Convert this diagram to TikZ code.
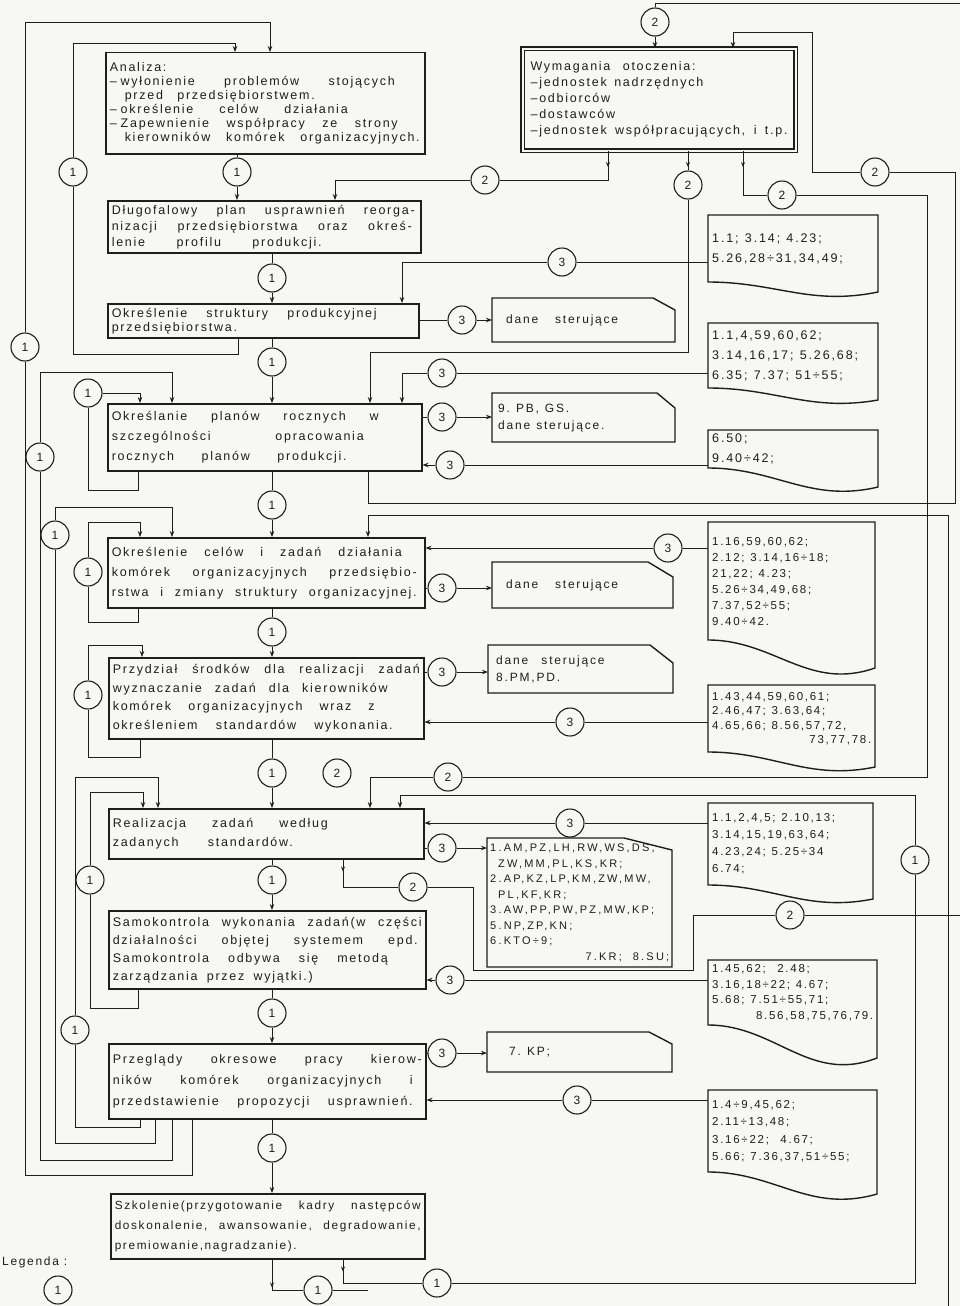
\documentclass[tikz,border=0pt]{standalone}
\usepackage{fontspec}
\setmainfont{Liberation Sans}
\newfontfamily\lett[LetterSpace=14]{Liberation Sans}
\newfontfamily\digw[LetterSpace=15]{Liberation Sans}
\newfontfamily\capf[LetterSpace=20]{Liberation Sans}
\usetikzlibrary{arrows.meta,decorations.markings}
\definecolor{ink}{HTML}{1E1E1E}
\definecolor{paper}{HTML}{F7F7F4}
\newcommand\mfont[2]{\lett\fontsize{#1}{#2}\selectfont}
\newcommand\dfont[2]{\digw\fontsize{#1}{#2}\selectfont}
\newcommand\cfont[2]{\capf\fontsize{#1}{#2}\selectfont}
\newcommand\wsA{\spaceskip=0.6em plus 4em minus 0.2em\xspaceskip=\spaceskip\relax}
\newcommand\wsD{\spaceskip=0.5em plus 1em minus 0.1em\xspaceskip=\spaceskip\relax}
\newcommand\fitln[2]{\makebox[#1pt][s]{#2}}
\newcommand\dsh{–\hspace{4pt}}
\newcommand\docshape[6]{\draw[dline] (#1,#4) -- (#1,#2) -- (#3,#2) -- (#3,#6) .. controls ({#1+0.6*(#3-#1)},{#4+1.6*(#5-#4)}) and ({#1+0.4*(#3-#1)},#4) .. (#1,#4) -- cycle;}
\newcommand\dsshape[6]{\draw[dline] (#1,#2) -- ({#3-#5},#2) -- (#3,{#2+#6}) -- (#3,#4) -- (#1,#4) -- cycle;}
\begin{document}
\begin{tikzpicture}[x=1pt,y=-1pt,
  mbox/.style={draw=ink, line width=1.5pt, rectangle, inner sep=0pt, anchor=north west, align=left, text=ink},
  cir/.style={circle, draw=ink, line width=1.1pt, minimum size=28pt, inner sep=0pt, text=ink, font=\fontsize{12}{12}\selectfont},
  cl/.style={draw=ink, line width=0.9pt},
  arr/.style={-{Stealth[length=6pt,width=4.5pt]}},
  tickarrow/.style={postaction={decorate, decoration={markings, mark=at position #1 with {\arrow{Stealth[length=5pt,width=4pt]}}}}},
  dline/.style={draw=ink, line width=1.4pt},
  dnode/.style={rectangle, inner sep=0pt, anchor=north west, align=left, text=ink},
]
\useasboundingbox (0,0) rectangle (960,1306);
\fill[paper] (0,0) rectangle (960,1306);

% ---------- main boxes ----------
\node[mbox, minimum width=319pt, minimum height=101pt, text width=311pt, font={\mfont{12.5}{14}}] (B1) at (105,52)
 {\wsA Analiza:\\ \fitln{285}{\dsh wyłonienie problemów stojących}\\ \hspace*{15pt}\fitln{190}{przed przedsiębiorstwem.}\\ \fitln{238}{\dsh określenie celów działania}\\ \fitln{288}{\dsh Zapewnienie współpracy ze strony}\\ \hspace*{15pt}\fitln{295}{kierowników komórek organizacyjnych.}};
\node[mbox, minimum width=313pt, minimum height=52pt, text width=305pt, font={\mfont{12.5}{16}}] (B2) at (107,200)
 {\wsA\fitln{303}{Długofalowy plan usprawnień reorga-}\\ \fitln{300}{nizacji przedsiębiorstwa oraz okreś-}\\ \fitln{210}{lenie profilu produkcji.}};
\node[mbox, minimum width=311pt, minimum height=34pt, text width=303pt, font={\mfont{12.5}{14}}] (B3) at (107,303)
 {\wsA\fitln{265}{Określenie struktury produkcyjnej}\\ przedsiębiorstwa.};
\node[mbox, minimum width=314pt, minimum height=67pt, text width=306pt, font={\mfont{12.5}{20}}] (B4) at (107,403)
 {\wsA\fitln{267}{Określanie planów rocznych w}\\ \fitln{252}{szczególności opracowania}\\ \fitln{235}{rocznych planów produkcji.}};
\node[mbox, minimum width=317pt, minimum height=70pt, text width=309pt, font={\mfont{12.5}{20}}] (B5) at (107,537)
 {\wsA\fitln{290}{Określenie celów i zadań działania}\\ \fitln{305}{komórek organizacyjnych przedsiębio-}\\ \fitln{305}{rstwa i zmiany struktury organizacyjnej.}};
\node[mbox, minimum width=315pt, minimum height=81pt, text width=307pt, font={\mfont{12.5}{18.5}}] (B6) at (108,657)
 {\wsA\fitln{307}{Przydział środków dla realizacji zadań}\\ \fitln{275}{wyznaczanie zadań dla kierowników}\\ \fitln{262}{komórek organizacyjnych wraz z}\\ \fitln{280}{określeniem standardów wykonania.}};
\node[mbox, minimum width=315pt, minimum height=50pt, text width=307pt, font={\mfont{12.5}{19}}] (B7) at (108,808)
 {\wsA\fitln{215}{Realizacja zadań według}\\ \fitln{180}{zadanych standardów.}};
\node[mbox, minimum width=317pt, minimum height=78pt, text width=309pt, font={\mfont{12.5}{18}}] (B8) at (108,910)
 {\wsA\fitln{309}{Samokontrola wykonania zadań(w części}\\ \fitln{305}{działalności objętej systemem epd.}\\ \fitln{275}{Samokontrola odbywa się metodą}\\ \fitln{200}{zarządzania przez wyjątki.)}};
\node[mbox, minimum width=317pt, minimum height=75pt, text width=309pt, font={\mfont{12.5}{21}}] (B9) at (108,1043)
 {\wsA\fitln{309}{Przeglądy okresowe pracy kierow-}\\ \fitln{300}{ników komórek organizacyjnych i}\\ \fitln{300}{przedstawienie propozycji usprawnień.}};
\node[mbox, minimum width=314pt, minimum height=65pt, text width=306pt, font={\mfont{11.8}{20}}] (B10) at (110,1193)
 {\wsA\fitln{306}{Szkolenie(przygotowanie kadry następców}\\ \fitln{306}{doskonalenie, awansowanie, degradowanie,}\\ premiowanie,nagradzanie).};
\node[mbox, line width=1.1pt, double=paper, double distance=2pt, minimum width=273pt, minimum height=102pt, text width=257pt, font={\mfont{12.5}{16}}] (W) at (522,48)
 {\wsA\fitln{165}{Wymagania otoczenia:}\\ –jednostek nadrzędnych\\ –odbiorców\\ –dostawców\\ \fitln{257}{–jednostek współpracujących, i t.p.}};

% ---------- document boxes ----------
\docshape{708}{215}{878}{282}{297}{292}
\node[dnode, minimum width=170pt, minimum height=67pt, text width=162pt, font={\dfont{12.5}{20}}] (D1) at (708,215) {\wsD 1.1; 3.14; 4.23;\\5.26,28÷31,34,49;};
\docshape{708}{323}{878}{388}{403}{400}
\node[dnode, minimum width=170pt, minimum height=65pt, text width=162pt, font={\dfont{12.5}{20}}] (D2) at (708,323) {\wsD 1.1,4,59,60,62;\\3.14,16,17; 5.26,68;\\6.35; 7.37; 51÷55;};
\docshape{708}{430}{878}{468}{490}{487}
\node[dnode, minimum width=170pt, minimum height=38pt, text width=162pt, font={\dfont{12.5}{20}}] (D3) at (708,430) {\wsD 6.50;\\9.40÷42;};
\docshape{708}{522}{875}{640}{672}{668}
\node[dnode, minimum width=167pt, minimum height=118pt, text width=159pt, font={\dfont{11.5}{16}}] (D4) at (708,522) {\wsD 1.16,59,60,62;\\2.12; 3.14,16÷18;\\21,22; 4.23;\\5.26÷34,49,68;\\7.37,52÷55;\\9.40÷42.};
\docshape{708}{685}{875}{752}{770}{767}
\node[dnode, minimum width=167pt, minimum height=67pt, text width=159pt, font={\dfont{11.5}{14.5}}] (D5) at (708,685) {\wsD 1.43,44,59,60,61;\\2.46,47; 3.63,64;\\4.65,66; 8.56,57,72,\\\hspace*{\fill}73,77,78.};
\docshape{708}{803}{873}{885}{902}{899}
\node[dnode, minimum width=165pt, minimum height=82pt, text width=157pt, font={\dfont{11.5}{17}}] (D6) at (708,803) {\wsD 1.1,2,4,5; 2.10,13;\\3.14,15,19,63,64;\\4.23,24; 5.25÷34\\6.74;};
\docshape{708}{960}{877}{1025}{1062}{1058}
\node[dnode, minimum width=169pt, minimum height=65pt, text width=161pt, font={\dfont{11.5}{15.5}}] (D7) at (708,960) {\wsD 1.45,62; \ 2.48;\\3.16,18÷22; 4.67;\\5.68; 7.51÷55,71;\\\hspace*{\fill}8.56,58,75,76,79.};
\docshape{708}{1090}{877}{1172}{1198}{1194}
\node[dnode, minimum width=169pt, minimum height=82pt, text width=161pt, font={\dfont{11.5}{17.5}}] (D8) at (708,1090) {\wsD 1.4÷9,45,62;\\2.11÷13,48;\\3.16÷22; \ 4.67;\\5.66; 7.36,37,51÷55;};

% ---------- data (chamfered) boxes ----------
\dsshape{492}{298}{675}{342}{22}{12}
\node[dnode, minimum width=183pt, minimum height=44pt, text width=155pt, font={\dfont{12}{16}}] (DS1) at (492,298) {dane\hspace{1.4em}sterujące};
\dsshape{492}{393}{675}{442}{18}{15}
\node[dnode, minimum width=183pt, minimum height=49pt, text width=171pt, font={\dfont{12}{17}}] (DS2) at (492,393) {\wsD 9. PB, GS.\\dane sterujące.};
\dsshape{492}{562}{673}{608}{25}{15}
\node[dnode, minimum width=181pt, minimum height=46pt, text width=153pt, font={\dfont{12}{16}}] (DS3) at (492,562) {dane\hspace{1.4em}sterujące};
\dsshape{488}{645}{673}{693}{23}{18}
\node[dnode, minimum width=185pt, minimum height=48pt, text width=169pt, font={\dfont{12}{17}}] (DS4) at (488,645) {\wsD dane\hspace{0.6em} sterujące\\8.PM,PD.};
\dsshape{487}{838}{672}{967}{48}{12}
\node[dnode, minimum width=185pt, minimum height=129pt, text width=179pt, font={\cfont{11}{15.5}}] (DS5) at (487,838) {\wsD 1.AM,PZ,LH,RW,WS,DS,\\\hspace*{8pt}ZW,MM,PL,KS,KR;\\2.AP,KZ,LP,KM,ZW,MW,\\\hspace*{8pt}PL,KF,KR;\\3.AW,PP,PW,PZ,MW,KP;\\5.NP,ZP,KN;\\6.KTO÷9;\\\hspace*{\fill}7.KR; \ 8.SU;};
\dsshape{487}{1032}{672}{1072}{23}{12}
\node[dnode, minimum width=185pt, minimum height=40pt, text width=141pt, font={\dfont{12}{16}}] (DS6) at (487,1032) {\wsD 7. KP;};

% ---------- connector circles ----------
\node[cir] (c1a) at (73,172) {1};
\node[cir] (c1b) at (237,172) {1};
\node[cir] (c1L) at (25,347) {1};
\node[cir] (c1c) at (272,278) {1};
\node[cir] (c1d) at (272,362) {1};
\node[cir] (c1e) at (88,393) {1};
\node[cir] (c1f) at (40,457) {1};
\node[cir] (c1g) at (272,505) {1};
\node[cir] (c1h) at (55,535) {1};
\node[cir] (c1i) at (88,572) {1};
\node[cir] (c1j) at (272,632) {1};
\node[cir] (c1k) at (88,695) {1};
\node[cir] (c1l) at (272,773) {1};
\node[cir] (c2x) at (337,773) {2};
\node[cir] (c2f) at (448,777) {2};
\node[cir] (c1m) at (90,880) {1};
\node[cir] (c1n) at (272,880) {1};
\node[cir] (c2g) at (413,887) {2};
\node[cir] (c1o) at (75,1030) {1};
\node[cir] (c1p) at (272,1013) {1};
\node[cir] (c1q) at (272,1148) {1};
\node[cir] (c1r) at (437,1283) {1};
\node[cir] (c1s) at (318,1290) {1};
\node[cir] (legc) at (58,1290) {1};
\node[cir] (c2top) at (655,22) {2};
\node[cir] (c2a) at (485,180) {2};
\node[cir] (c2b) at (688,185) {2};
\node[cir] (c2c) at (782,195) {2};
\node[cir] (c2d) at (875,172) {2};
\node[cir] (c3a) at (462,320) {3};
\node[cir] (c3b) at (562,262) {3};
\node[cir] (c3c) at (442,373) {3};
\node[cir] (c3d) at (442,417) {3};
\node[cir] (c3e) at (450,465) {3};
\node[cir] (c3f) at (668,548) {3};
\node[cir] (c3g) at (442,588) {3};
\node[cir] (c3h) at (442,672) {3};
\node[cir] (c3i) at (570,722) {3};
\node[cir] (c3j) at (570,823) {3};
\node[cir] (c3k) at (442,848) {3};
\node[cir] (c1t) at (915,860) {1};
\node[cir] (c2h) at (790,915) {2};
\node[cir] (c3l) at (450,980) {3};
\node[cir] (c3m) at (442,1053) {3};
\node[cir] (c3n) at (577,1100) {3};

\node[anchor=west, inner sep=0pt, text=ink, font={\mfont{12}{12}}] (leg) at (2,1262) {Legenda :};

% ---------- main flow ----------
\draw[cl] (B1.south -| c1b) -- (c1b.north);
\draw[cl,arr] (c1b.south) -- (B2.north -| c1b);
\draw[cl] (B2.south -| c1c) -- (c1c.north);
\draw[cl,arr] (c1c.south) -- (B3.north -| c1c);
\draw[cl] (B3.south -| c1d) -- (c1d.north);
\draw[cl,arr] (c1d.south) -- (B4.north -| c1d);
\draw[cl] (B4.south -| c1g) -- (c1g.north);
\draw[cl,arr] (c1g.south) -- (B5.north -| c1g);
\draw[cl] (B5.south -| c1j) -- (c1j.north);
\draw[cl,arr] (c1j.south) -- (B6.north -| c1j);
\draw[cl] (B6.south -| c1l) -- (c1l.north);
\draw[cl,arr] (c1l.south) -- (B7.north -| c1l);
\draw[cl] (B7.south -| c1n) -- (c1n.north);
\draw[cl,arr] (c1n.south) -- (B8.north -| c1n);
\draw[cl] (B8.south -| c1p) -- (c1p.north);
\draw[cl,arr] (c1p.south) -- (B9.north -| c1p);
\draw[cl] (B9.south -| c1q) -- (c1q.north);
\draw[cl,arr] (c1q.south) -- (B10.north -| c1q);
\draw[cl,tickarrow=28pt] (B10.south -| c1q) -- (272,1290) -- (c1s.west);
\coordinate (eBot) at (368,1290);
\draw[cl] (c1s.east) -- (eBot);

% ---------- left feedback loops ----------
\draw[cl] (B3.south -| 238,0) -- (238,354) -- (73,354) -- (c1a.south);
\draw[cl,arr] (c1a.north) -- (73,43) -- (235,43) -- (B1.north -| 235,0);
\draw[cl] (B9.south -| 192,0) -- (192,1175) -- (25,1175) -- (c1L.south);
\draw[cl,arr] (c1L.north) -- (25,22) -- (270,22) -- (B1.north -| 270,0);
\draw[cl] (B9.south -| 172,0) -- (172,1160) -- (40,1160) -- (c1f.south);
\draw[cl,arr] (c1f.north) -- (40,372) -- (172,372) -- (B4.north -| 172,0);
\draw[cl] (B9.south -| 155,0) -- (155,1143) -- (55,1143) -- (c1h.south);
\draw[cl,arr] (c1h.north) -- (55,507) -- (172,507) -- (B5.north -| 172,0);
\draw[cl] (B9.south -| 140,0) -- (140,1127) -- (75,1127) -- (c1o.south);
\draw[cl,arr] (c1o.north) -- (75,777) -- (158,777) -- (B7.north -| 158,0);
\draw[cl] (B4.south -| 138,0) -- (138,490) -- (88,490) -- (c1e.south);
\draw[cl,arr] (c1e.east) -- (140,393) -- (B4.north -| 140,0);
\draw[cl] (B5.south -| 138,0) -- (138,622) -- (88,622) -- (c1i.south);
\draw[cl,arr] (c1i.north) -- (88,522) -- (140,522) -- (B5.north -| 140,0);
\draw[cl] (B6.south -| 140,0) -- (140,757) -- (88,757) -- (c1k.south);
\draw[cl,arr] (c1k.north) -- (88,645) -- (142,645) -- (B6.north -| 142,0);
\draw[cl] (B8.south -| 138,0) -- (138,1008) -- (90,1008) -- (c1m.south);
\draw[cl,arr] (c1m.north) -- (90,792) -- (143,792) -- (B7.north -| 143,0);

% ---------- environment requirements ----------
\coordinate (eTop) at (960,3);
\draw[cl] (eTop) -- (655,3) -- (c2top.north);
\draw[cl,arr] (c2top.south) -- (W.north -| c2top);
\draw[cl] (B4.south -| 368,0) -- (368,503) -- (955,503) -- (955,172) -- (c2d.east);
\draw[cl,arr] (c2d.west) -- (812,172) -- (812,32) -- (733,32) -- (W.north -| 733,0);
\draw[cl,tickarrow=16pt] (W.south -| 608,0) -- (608,180) -- (c2a.east);
\draw[cl,arr] (c2a.west) -- (335,180) -- (B2.north -| 335,0);
\draw[cl,tickarrow=16pt] (W.south -| c2b) -- (c2b.north);
\draw[cl,arr] (c2b.south) -- (688,352) -- (370,352) -- (B4.north -| 370,0);
\draw[cl,tickarrow=16pt] (W.south -| 743,0) -- (743,195) -- (c2c.west);
\draw[cl] (c2c.east) -- (927,195) -- (927,777) -- (c2f.east);
\draw[cl,arr] (c2f.west) -- (370,777) -- (B7.north -| 370,0);

% ---------- data connections ----------
\draw[cl] (D1.west |- c3b) -- (c3b.east);
\draw[cl,arr] (c3b.west) -- (402,262) -- (B3.north -| 402,0);
\draw[cl] (B3.east |- c3a) -- (c3a.west);
\draw[cl,arr] (c3a.east) -- (DS1.west |- c3a);
\draw[cl] (D2.west |- c3c) -- (c3c.east);
\draw[cl,arr] (c3c.west) -- (402,373) -- (B4.north -| 402,0);
\draw[cl] (B4.east |- c3d) -- (c3d.west);
\draw[cl,arr] (c3d.east) -- (DS2.west |- c3d);
\draw[cl] (D3.west |- c3e) -- (c3e.east);
\draw[cl,arr] (c3e.west) -- (B4.east |- c3e);
\coordinate (eR) at (948,1306);
\draw[cl,arr] (eR) -- (948,515) -- (368,515) -- (B5.north -| 368,0);
\draw[cl] (D4.west |- c3f) -- (c3f.east);
\draw[cl,arr] (c3f.west) -- (B5.east |- c3f);
\draw[cl] (B5.east |- c3g) -- (c3g.west);
\draw[cl,arr] (c3g.east) -- (DS3.west |- c3g);
\draw[cl] (B6.east |- c3h) -- (c3h.west);
\draw[cl,arr] (c3h.east) -- (DS4.west |- c3h);
\draw[cl] (D5.west |- c3i) -- (c3i.east);
\draw[cl,arr] (c3i.west) -- (B6.east |- c3i);
\draw[cl] (D6.west |- c3j) -- (c3j.east);
\draw[cl,arr] (c3j.west) -- (B7.east |- c3j);
\draw[cl] (B7.east |- c3k) -- (c3k.west);
\draw[cl,arr] (c3k.east) -- (DS5.west |- c3k);
\draw[cl,tickarrow=12pt] (B10.south -| 343,0) -- (343,1283) -- (c1r.west);
\draw[cl] (c1r.east) -- (915,1283) -- (c1t.south);
\draw[cl,arr] (c1t.north) -- (915,795) -- (400,795) -- (B7.north -| 400,0);
\draw[cl,tickarrow=12pt] (B7.south -| 343,0) -- (343,887) -- (c2g.west);
\coordinate (eR2) at (960,915);
\draw[cl] (c2g.east) -- (473,887) -- (473,970) -- (693,970) -- (693,915) -- (c2h.west);
\draw[cl] (c2h.east) -- (eR2);
\draw[cl] (D7.west |- c3l) -- (c3l.east);
\draw[cl,arr] (c3l.west) -- (B8.east |- c3l);
\draw[cl] (B9.east |- c3m) -- (c3m.west);
\draw[cl,arr] (c3m.east) -- (DS6.west |- c3m);
\draw[cl] (D8.west |- c3n) -- (c3n.east);
\draw[cl,arr] (c3n.west) -- (B9.east |- c3n);
\end{tikzpicture}
\end{document}
